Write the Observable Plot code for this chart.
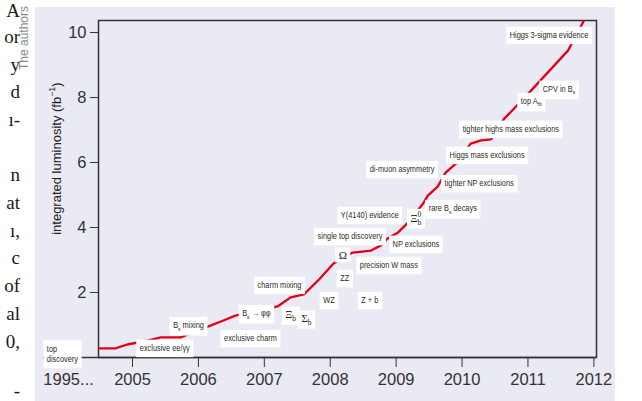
<!DOCTYPE html>
<html><head><meta charset="utf-8">
<script src="https://cdn.jsdelivr.net/npm/d3@7"></script>
<script src="https://cdn.jsdelivr.net/npm/@observablehq/plot@0.6"></script>
<style>
html,body{margin:0;padding:0;background:#fff;width:642px;height:401px;overflow:hidden;position:relative;font-family:"Liberation Sans",Arial,sans-serif}
.pl{position:absolute;right:622px;font-family:"Liberation Serif","DejaVu Serif",serif;font-size:19px;line-height:9px;height:9px;color:#1a1a1a;white-space:pre;text-align:right}
#credit{position:absolute;left:24px;top:38px;transform:translate(-50%,-50%) rotate(-90deg);font-size:12px;color:#8a8a8a;white-space:nowrap}
#panel{position:absolute;left:35px;top:7px;width:580px;height:394px;background:#eaeaf5}
#panel svg{display:block}
</style></head>
<body>
<div id="credit">The authors</div>
<div id="panel"></div>
<script>
// surrounding page text fragments (column edge)
const pageLines = ["A","or","y","d","ı-","","n","at","ı,","c","of","al","0,","","-"];

// integrated luminosity curve
const years = [2004.47, 2004.74, 2004.92, 2005.23, 2005.43, 2005.73, 2005.88, 2006.18, 2006.38, 2006.56,
  2007.20, 2007.40, 2007.60, 2007.83, 2008.05, 2008.34, 2008.62, 2008.77, 2008.87, 2009.03,
  2009.18, 2009.41, 2009.48, 2009.63, 2009.75, 2009.91, 2010.13, 2010.29, 2010.44, 2010.64,
  2010.79, 2011.05, 2011.61, 2011.85];
const lumi = [0.28, 0.28, 0.40, 0.52, 0.62, 0.62, 0.74, 0.98, 1.14, 1.29,
  1.57, 1.85, 1.94, 2.40, 2.89, 3.23, 3.29, 3.45, 3.66, 3.85,
  4.15, 4.74, 4.98, 5.26, 5.69, 5.97, 6.58, 6.68, 6.71, 7.35,
  7.66, 8.22, 9.45, 10.37];

// milestone annotations
const labelText = ["exclusive ee/γγ", "B_{s} mixing", "exclusive charm", "B_{s} → φφ", "charm mixing",
  "WZ", "ZZ", "Z + b", "precision W mass", "single top discovery", "NP exclusions",
  "Y(4140) evidence", "rare B_{s} decays", "tighter NP exclusions", "di-muon asymmetry",
  "Higgs mass exclusions", "tighter highs mass exclusions", "top A_{fb}", "CPV in B_{s}",
  "Higgs 3-sigma evidence"];
const labelYear = [2005.49, 2005.85, 2006.79, 2006.88, 2007.23,
  2007.98, 2008.22, 2008.60, 2008.89, 2008.30, 2009.30,
  2008.60, 2009.86, 2010.26, 2009.09,
  2010.38, 2010.74, 2011.05, 2011.47, 2011.32];
const labelLumi = [0.28, 0.98, 0.58, 1.35, 2.22,
  1.75, 2.43, 1.75, 2.83, 3.72, 3.48,
  4.37, 4.58, 5.35, 5.78,
  6.22, 7.02, 7.88, 8.25, 9.91];

const greekText = ["Ξ_{b}", "Σ_{b}", "Ω", "Ξ^{0}_{b}"];
const greekYear = [2007.40, 2007.64, 2008.19, 2009.30];
const greekLumi = [1.32, 1.20, 3.14, 4.28];

const firstText = "top\ndiscovery";
const firstYear = 2003.70;
const firstLumi = 0.12;

const xTicks = [2005, 2006, 2007, 2008, 2009, 2010, 2011, 2012];
const yTicks = [2, 4, 6, 8, 10];
const startTickLabel = "1995...";
const startTickYear = 2004.03;
const yTitle = "integrated luminosity (fb^{−1})";
const yTitleLumi = 6.12;

// page text lines, one element each (kept inside the page edges)
pageLines.forEach((s, i) => {
  if (!s) return;
  const d = document.createElement("div");
  d.className = "pl";
  d.textContent = s;
  const base = Math.min(Math.max(15 + i * 27.7, 17.3), 396.5);
  d.style.top = (base - 10.9).toFixed(1) + "px";
  document.body.appendChild(d);
});

const curve = years.map((x, i) => ({x, y: lumi[i]}));
const labels = labelText.map((t, i) => ({t, x: labelYear[i], y: labelLumi[i]}));
const greek = greekText.map((t, i) => ({t, x: greekYear[i], y: greekLumi[i]}));
const sans = "Liberation Sans, Arial, sans-serif";

const svg = Plot.plot({
  width: 580, height: 394,
  marginLeft: 63, marginRight: 19, marginTop: 13, marginBottom: 44,
  style: {background: "transparent", fontFamily: sans, overflow: "visible"},
  x: {domain: [2004.484, 2012.04]},
  y: {domain: [0, 10.37]},
  marks: [
    Plot.ruleY([0], {x1: firstYear - 0.05, x2: 2012.04, stroke: "#333", strokeWidth: 1.5}),
    Plot.frame({stroke: "#333", strokeWidth: 1.5}),
    Plot.axisY({ticks: yTicks, tickSize: 8, tickPadding: 4, fontSize: 16.5, label: null, color: "#333"}),
    Plot.axisX({ticks: xTicks, tickSize: 10, tickPadding: 6, tickFormat: d => String(d), fontSize: 16.5, label: null, color: "#333"}),
    Plot.text([startTickLabel], {x: () => startTickYear, y: () => 0, text: d => d, dy: 16, lineAnchor: "top", fontSize: 16.5, fill: "#333"}),
    Plot.text([yTitle], {text: d => d, y: () => yTitleLumi, frameAnchor: "left", textAnchor: "middle", lineAnchor: "middle", dx: -42, rotate: -90, fontSize: 13, fill: "#222", className: "ytitle"}),
    Plot.line(curve, {x: "x", y: "y", stroke: "#e3001b", strokeWidth: 2.3, strokeLinejoin: "round", clip: true}),
    Plot.text(labels, {x: "x", y: "y", text: "t", fontSize: 8.2, fill: "#2a2a2a", fontFamily: sans, className: "lbl"}),
    Plot.text([firstText], {x: () => firstYear, y: () => firstLumi, text: d => d, textAnchor: "start", lineHeight: 1.3, fontSize: 8.2, fill: "#2a2a2a", fontFamily: sans, className: "lbl"}),
    Plot.text(greek, {x: "x", y: "y", text: "t", fontSize: 11, fill: "#222", fontFamily: "Liberation Serif, DejaVu Serif, serif", className: "glbl"})
  ]
});
document.getElementById("panel").appendChild(svg);

const NS = "http://www.w3.org/2000/svg";
function rich(el, str, size) {
  el.textContent = "";
  const re = /([_^])\{([^}]*)\}/g;
  const parts = [];
  let last = 0, m;
  while ((m = re.exec(str))) {
    if (m.index > last) parts.push({t: str.slice(last, m.index), k: ""});
    parts.push({t: m[2], k: m[1]});
    last = re.lastIndex;
  }
  if (last < str.length) parts.push({t: str.slice(last), k: ""});
  let cur = 0, prevLen = 0, prevKind = "";
  for (const p of parts) {
    const ts = document.createElementNS(NS, "tspan");
    const target = p.k === "_" ? 0.28 * size : p.k === "^" ? -0.42 * size : 0;
    ts.setAttribute("dy", target - cur);
    cur = target;
    if (p.k) ts.setAttribute("font-size", (0.68 * size).toFixed(2));
    if (p.k && prevKind && prevKind !== p.k) ts.setAttribute("dx", -prevLen);
    ts.textContent = p.t;
    el.appendChild(ts);
    prevLen = ts.getComputedTextLength();
    prevKind = p.k;
  }
}
function process(sel, size, padX, padY, box, sx) {
  svg.querySelectorAll(sel).forEach(g => {
    g.querySelectorAll("text").forEach(t => {
      const s = t.textContent;
      if (/[_^]\{/.test(s)) rich(t, s, size);
      if (sx !== 1) t.setAttribute("transform", (t.getAttribute("transform") || "") + ` scale(${sx},1)`);
      if (!box) return;
      const bb = t.getBBox();
      const r = document.createElementNS(NS, "rect");
      const px = padX / sx;
      r.setAttribute("x", bb.x - px);
      r.setAttribute("y", bb.y - padY);
      r.setAttribute("width", bb.width + 2 * px);
      r.setAttribute("height", bb.height + 2 * padY);
      r.setAttribute("fill", "#fff");
      r.setAttribute("stroke", "none");
      const tr = t.getAttribute("transform");
      if (tr) r.setAttribute("transform", tr);
      t.parentNode.insertBefore(r, t);
    });
  });
}
process(".ytitle", 13, 0, 0, false, 1);
process(".lbl", 8.2, 3.5, 4, true, 0.9);
process(".glbl", 11, 3.5, 1.5, true, 1);
</script>
</body></html>
